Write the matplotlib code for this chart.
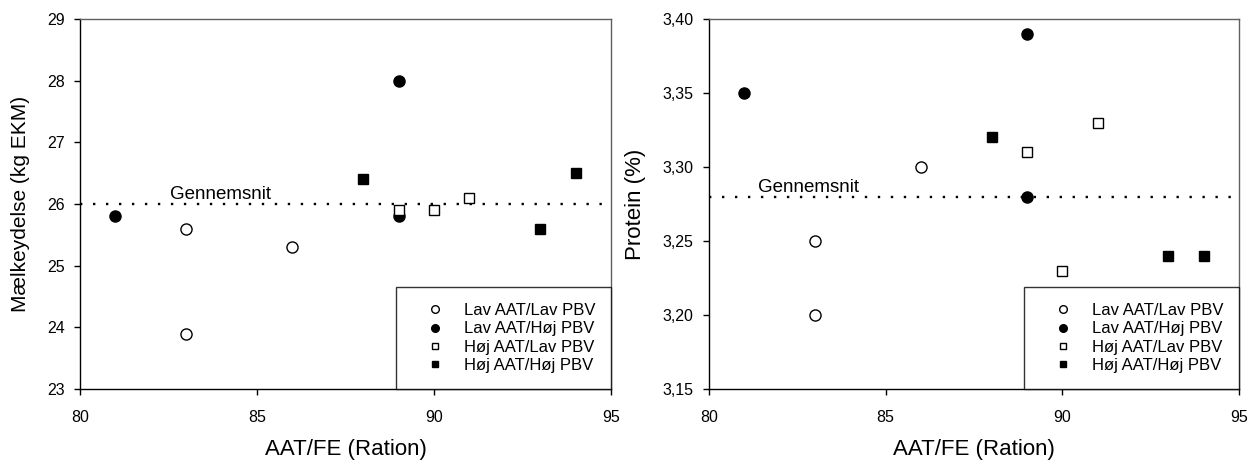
import matplotlib
matplotlib.use("Agg")
import matplotlib.pyplot as plt
from matplotlib.lines import Line2D

plt.rcParams['font.family'] = ['Liberation Sans', 'DejaVu Sans']

# Data
series_names = ["Lav AAT/Lav PBV", "Lav AAT/Høj PBV", "Høj AAT/Lav PBV", "Høj AAT/Høj PBV"]

x_lav_lav = [83, 83, 86]
x_lav_hoj = [81, 89, 89]
x_hoj_lav = [89, 90, 91]
x_hoj_hoj = [88, 93, 94]

milk_lav_lav = [25.6, 23.9, 25.3]
milk_lav_hoj = [25.8, 28.0, 25.8]
milk_hoj_lav = [25.9, 25.9, 26.1]
milk_hoj_hoj = [26.4, 25.6, 26.5]
milk_mean = 26.0

prot_lav_lav = [3.25, 3.20, 3.30]
prot_lav_hoj = [3.35, 3.39, 3.28]
prot_hoj_lav = [3.31, 3.23, 3.33]
prot_hoj_hoj = [3.32, 3.24, 3.24]
prot_mean = 3.28

x_ticks = [80, 85, 90, 95]
milk_ticks = [23, 24, 25, 26, 27, 28, 29]
prot_ticks = [3.15, 3.20, 3.25, 3.30, 3.35, 3.40]
prot_ticklabels = ["3,15", "3,20", "3,25", "3,30", "3,35", "3,40"]

W, H = 1251, 463
fig = plt.figure(figsize=(W / 100, H / 100), dpi=100)
ax1 = fig.add_axes([80 / W, (H - 389) / H, 531 / W, 370 / H])
ax2 = fig.add_axes([709 / W, (H - 389) / H, 530 / W, 370 / H])

styles = [
    dict(marker='o', mfc='white', mec='black', ms=8),
    dict(marker='o', mfc='black', mec='black', ms=8),
    dict(marker='s', mfc='white', mec='black', ms=7),
    dict(marker='s', mfc='black', mec='black', ms=7),
]


def draw(ax, xs, ys, mean, ylim, yticks, yticklabels, ylabel, ylabel_size, text_x, text_y):
    ax.axhline(mean, color='black', linestyle=(0, (1, 4.5)), linewidth=1.7, zorder=1)
    for x, y, st in zip(xs, ys, styles):
        ax.plot(x, y, linestyle='none', mew=1.0, zorder=3, **st)
    ax.text(text_x, text_y, "Gennemsnit", fontsize=13.5, ha='left', va='bottom')
    ax.set_xlim(80, 95)
    ax.set_ylim(*ylim)
    ax.set_xticks(x_ticks)
    ax.set_yticks(yticks)
    ax.set_yticklabels(yticklabels)
    ax.tick_params(direction='out', length=4, width=1, labelsize=11.5)
    ax.tick_params(axis='x', pad=11)
    ax.tick_params(axis='y', pad=7)
    ax.set_xlabel("AAT/FE (Ration)", fontsize=16, labelpad=10)
    ax.set_ylabel(ylabel, fontsize=ylabel_size, labelpad=12)
    for s in ['left', 'bottom']:
        ax.spines[s].set_color('black')
        ax.spines[s].set_linewidth(1.0)
    for s in ['top', 'right']:
        ax.spines[s].set_color('#606060')
        ax.spines[s].set_linewidth(1.0)
    handles = [Line2D([], [], linestyle='none', marker=st['marker'], mfc=st['mfc'],
                      mec='black', ms=st['ms'] - 2.5, mew=1.0) for st in styles]
    leg = ax.legend(handles, series_names, loc='lower right', fontsize=12,
                    frameon=True, fancybox=False, borderaxespad=0, handletextpad=0.3,
                    labelspacing=0.2, borderpad=0.95, handlelength=2.8)
    leg.get_frame().set_edgecolor('black')
    leg.get_frame().set_linewidth(1.0)


draw(ax1, [x_lav_lav, x_lav_hoj, x_hoj_lav, x_hoj_hoj],
     [milk_lav_lav, milk_lav_hoj, milk_hoj_lav, milk_hoj_hoj],
     milk_mean, (23, 29), milk_ticks, [str(t) for t in milk_ticks],
     "Mælkeydelse (kg EKM)", 15, 82.55, 26.02)
draw(ax2, [x_lav_lav, x_lav_hoj, x_hoj_lav, x_hoj_hoj],
     [prot_lav_lav, prot_lav_hoj, prot_hoj_lav, prot_hoj_hoj],
     prot_mean, (3.15, 3.40), prot_ticks, prot_ticklabels,
     "Protein (%)", 16, 81.4, 3.2805)

fig.savefig("out.png", dpi=100)
